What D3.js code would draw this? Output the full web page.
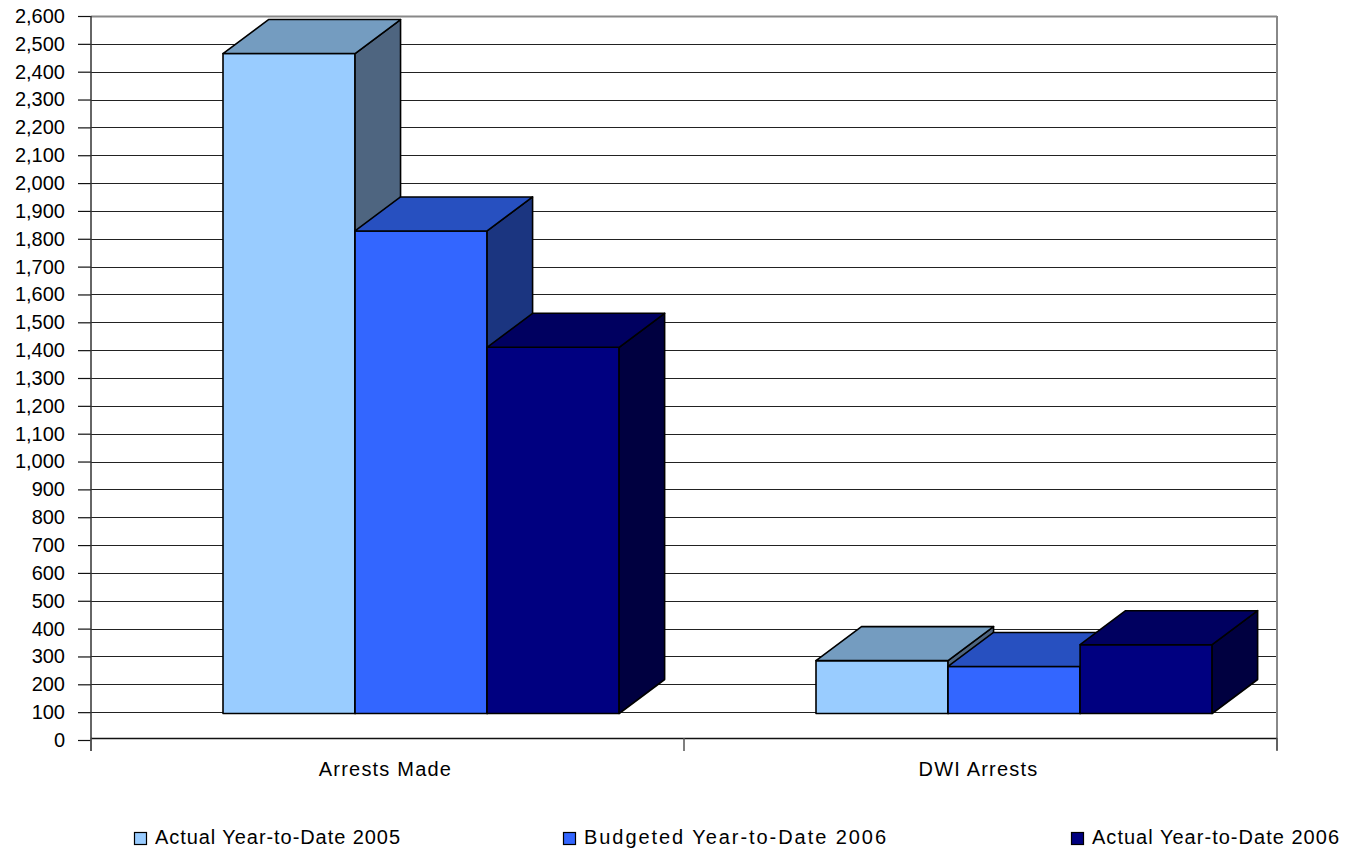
<!DOCTYPE html>
<html>
<head>
<meta charset="utf-8">
<script src="https://cdn.jsdelivr.net/npm/d3@7"></script>
<style>
  html, body { margin: 0; padding: 0; background: #fff; }
  svg { display: block; font-family: "Liberation Sans", Arial, sans-serif; }
</style>
</head>
<body>
<svg id="chart" width="1345" height="853"></svg>
<script>
const categories = ["Arrests Made", "DWI Arrests"];
const seriesNames = ["Actual Year-to-Date 2005", "Budgeted Year-to-Date 2006", "Actual Year-to-Date 2006"];
const actual2005 = [2370, 190];
const budgeted2006 = [1733, 169];
const actual2006 = [1315, 247];
const yTicks = [0,100,200,300,400,500,600,700,800,900,1000,1100,1200,1300,1400,1500,1600,1700,1800,1900,2000,2100,2200,2300,2400,2500,2600];

(function () {
const seriesValues = [actual2005, budgeted2006, actual2006];
const frontColors = ["#99CCFF", "#3366FF", "#000080"];
const topColors   = ["#749CC0", "#2750C0", "#000060"];
const sideColors  = ["#4E6580", "#1B3580", "#000040"];

const svg = d3.select("#chart");
const pLeft = 91, pRight = 1277, pTop = 16, pBottom = 740;

const y = d3.scaleLinear().domain([0, 2600]).range([pBottom, pTop]);
const x0 = d3.scaleBand().domain(categories).range([pLeft, pRight]).padding(0);
const bw = x0.bandwidth();
const x1 = d3.scaleBand().domain(seriesNames).range([bw * 0.2226, bw * 0.2226 + bw * 0.668]).padding(0);

// gridlines
svg.append("g").selectAll("line").data(yTicks.filter(d => d > 0)).join("line")
  .attr("x1", pLeft).attr("x2", pRight)
  .attr("y1", d => Math.round(y(d)) + 0.5).attr("y2", d => Math.round(y(d)) + 0.5)
  .attr("stroke", d => d === 2600 ? "#888" : "#222")
  .attr("stroke-width", d => d === 2600 ? 2 : 1.2);

// right border
svg.append("line").attr("x1", pRight).attr("x2", pRight).attr("y1", pTop).attr("y2", pBottom + 10)
  .attr("stroke", "#888").attr("stroke-width", 2);

// y axis
const yAxis = d3.axisLeft(y).tickValues(yTicks).tickFormat(d3.format(",")).tickSize(13).tickPadding(13);
const gy = svg.append("g").attr("transform", `translate(${pLeft},0)`).call(yAxis);
gy.select(".domain").remove();
gy.selectAll(".tick line").attr("stroke", "#111").attr("stroke-width", 1.2);
gy.selectAll(".tick text").attr("font-size", 20).attr("fill", "#000")
  .attr("font-family", "'Liberation Sans', Arial, sans-serif");
svg.append("line").attr("x1", pLeft).attr("x2", pLeft).attr("y1", pTop).attr("y2", pBottom + 11)
  .attr("stroke", "#333").attr("stroke-width", 1.5);

// category axis line
svg.append("line").attr("x1", pLeft).attr("x2", pRight).attr("y1", pBottom - 1.5).attr("y2", pBottom - 1.5)
  .attr("stroke", "#111").attr("stroke-width", 1.5);
const boundaries = categories.map(c => x0(c)).concat([x0(categories[categories.length - 1]) + bw]);
svg.append("g").selectAll("line").data(boundaries).join("line")
  .attr("x1", d => d).attr("x2", d => d).attr("y1", pBottom - 2).attr("y2", pBottom + 11)
  .attr("stroke", "#555").attr("stroke-width", 1.5);

// category labels
svg.append("g").selectAll("text").data(categories).join("text")
  .attr("x", d => x0(d) + bw / 2 - 2).attr("y", 776)
  .attr("text-anchor", "middle").attr("font-size", 20).attr("letter-spacing", "1.2px")
  .attr("fill", "#000").text(d => d);

// 3D bars
const DX = 45.5, DY = 34, SHIFT = 26.5;
const bars = svg.append("g");
categories.forEach((c, ci) => {
  seriesNames.forEach((s, si) => {
    const v = seriesValues[si][ci];
    const xa = x0(c) + x1(s), xb = xa + x1.bandwidth();
    const yt = y(v) - SHIFT, yb = y(0) - SHIFT;
    const g = bars.append("g").attr("stroke", "#000").attr("stroke-width", 1.6).attr("stroke-linejoin", "round");
    g.append("rect").attr("x", xa).attr("y", yt).attr("width", xb - xa).attr("height", yb - yt)
      .attr("fill", frontColors[si]);
    g.append("polygon").attr("points", [[xb, yt], [xb + DX, yt - DY], [xb + DX, yb - DY], [xb, yb]].map(p => p.join(",")).join(" "))
      .attr("fill", sideColors[si]);
    g.append("polygon").attr("points", [[xa, yt], [xa + DX, yt - DY], [xb + DX, yt - DY], [xb, yt]].map(p => p.join(",")).join(" "))
      .attr("fill", topColors[si]);
  });
});

// legend
const legendX = [134, 563, 1071];
const legendW = [245, 302, 247];
const lg = svg.append("g").selectAll("g").data(seriesNames).join("g")
  .attr("transform", (d, i) => `translate(${legendX[i]},832)`);
lg.append("rect").attr("x", 0.5).attr("y", 0.5).attr("width", 12).attr("height", 12)
  .attr("fill", (d, i) => frontColors[i]).attr("stroke", "#000").attr("stroke-width", 1.2);
lg.append("text").attr("x", 21).attr("y", 12).attr("font-size", 20)
  .attr("textLength", (d, i) => legendW[i]).attr("lengthAdjust", "spacing")
  .attr("fill", "#000").text(d => d);
})();
</script>
</body>
</html>
